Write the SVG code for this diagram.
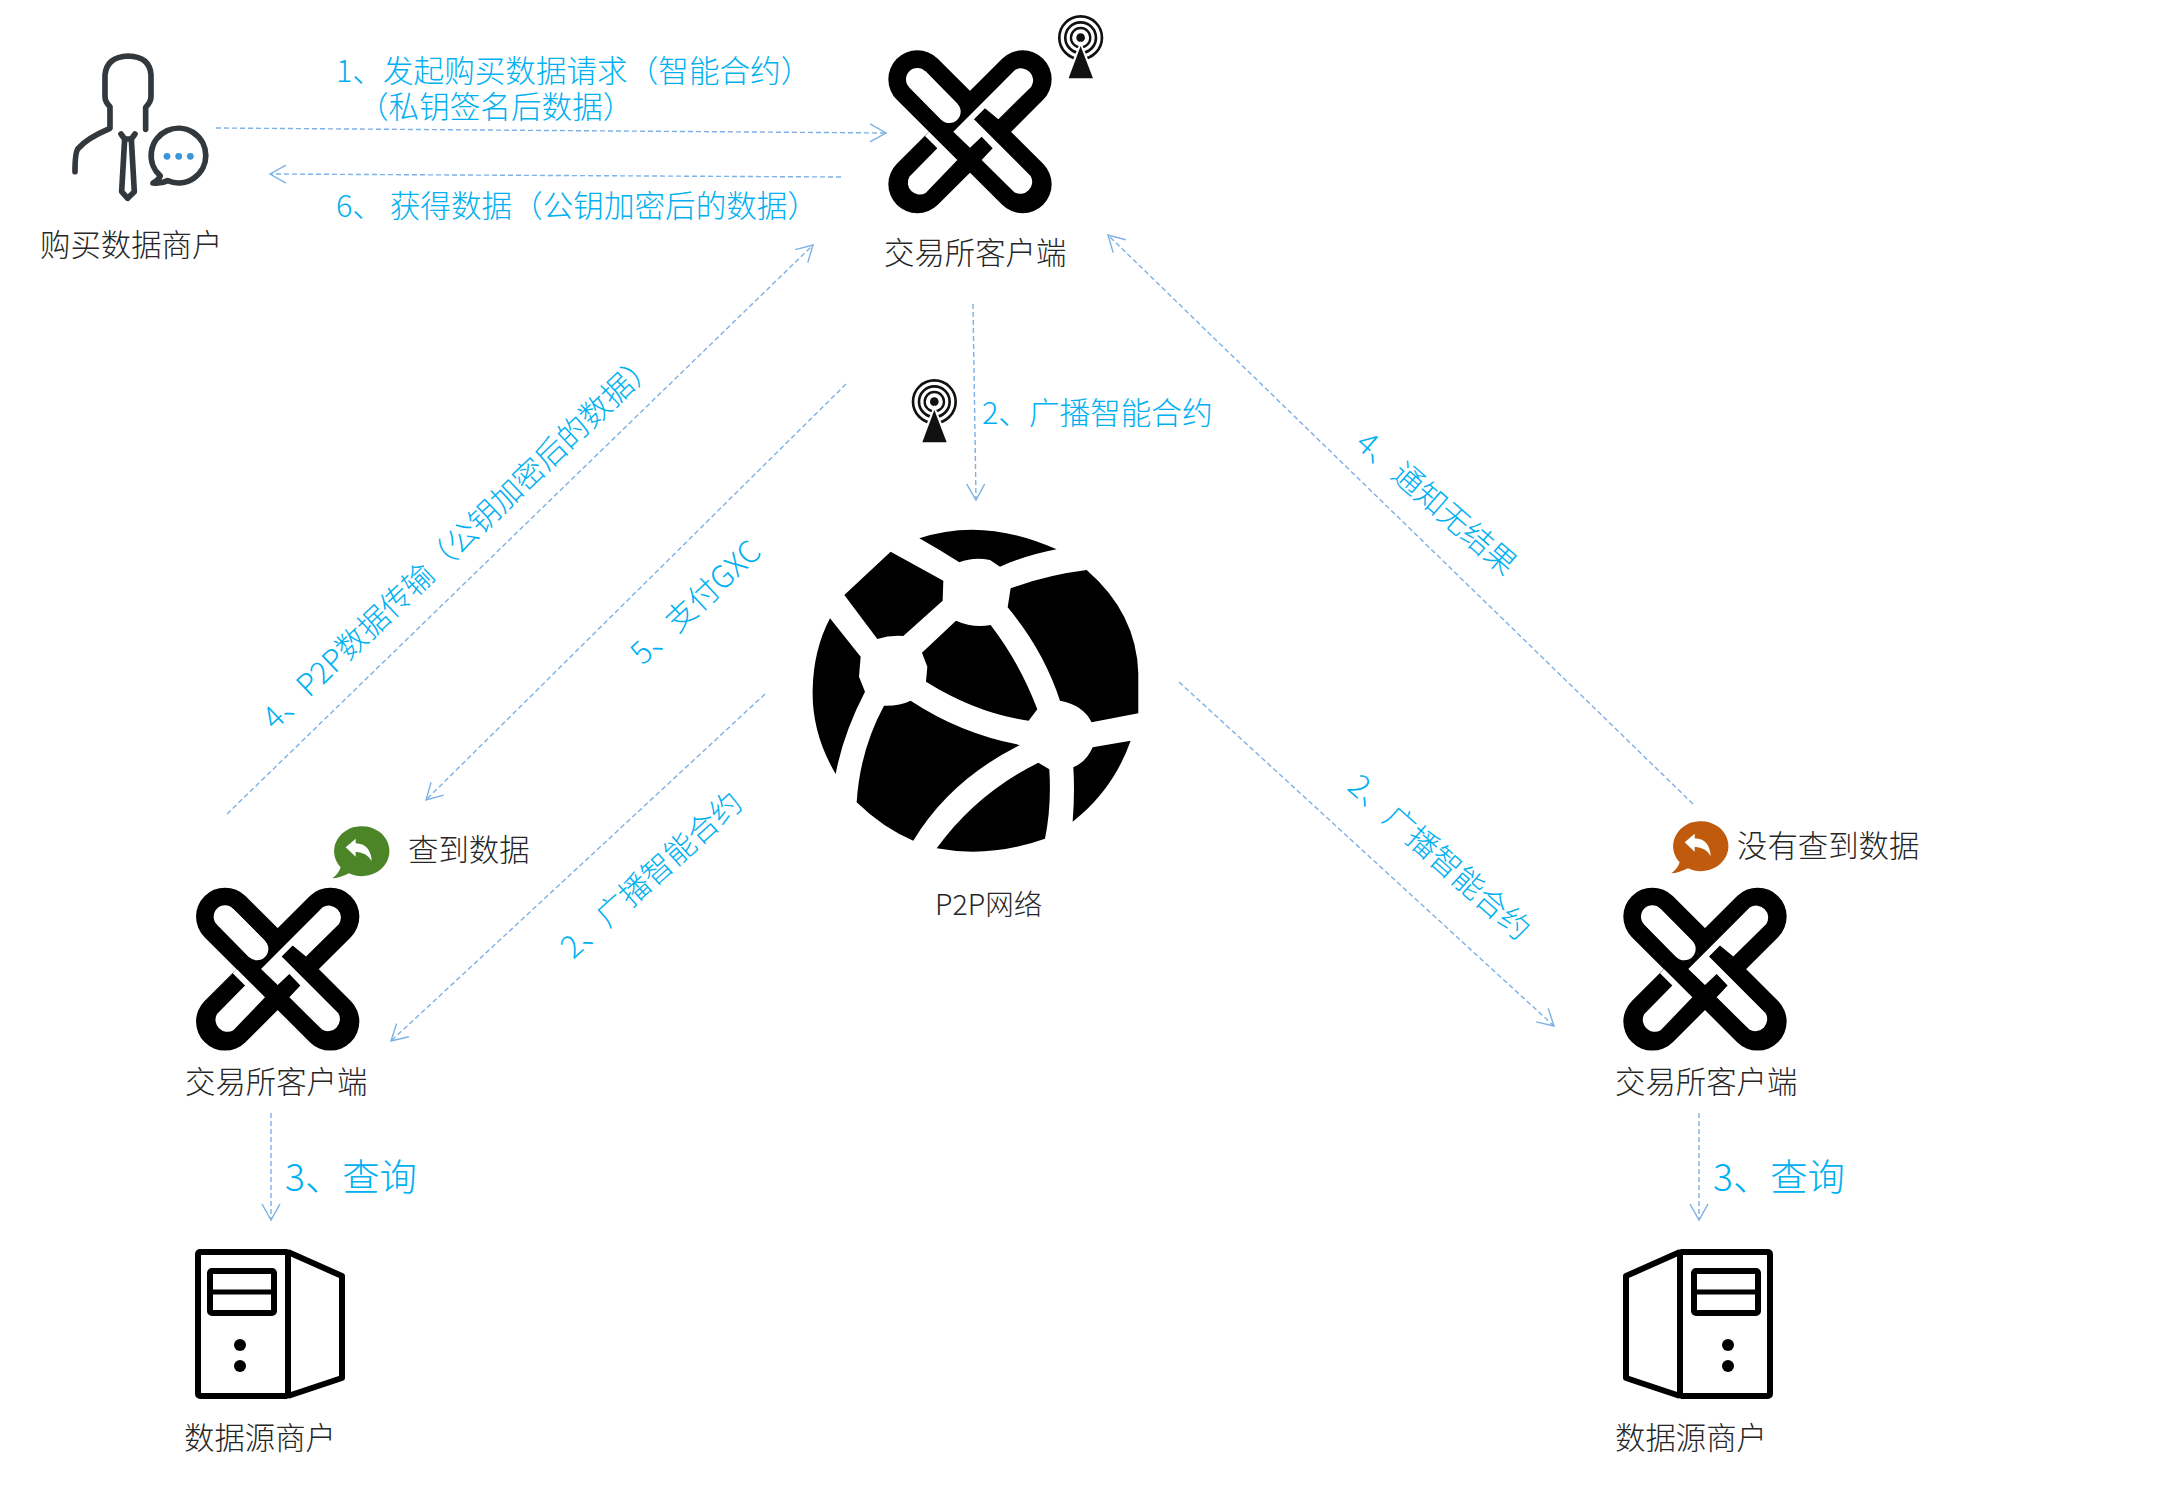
<svg xmlns="http://www.w3.org/2000/svg" xmlns:xlink="http://www.w3.org/1999/xlink" width="2160" height="1512" viewBox="0 0 2160 1512">
<style>
text{font-family:"Noto Sans CJK SC","Noto Sans",sans-serif;font-weight:300}
.k{font-size:30.400px;fill:#262626}
.b{font-size:30.600px;fill:#00b0f0}
.b3{font-size:37.300px;fill:#00b0f0}
.c{fill:none;stroke:#7db0e4;stroke-width:1.4;stroke-dasharray:5 3;marker-end:url(#arr)}
</style>
<defs>
<marker id="arr" markerUnits="userSpaceOnUse" markerWidth="22" markerHeight="24" refX="18" refY="12" orient="auto">
<path d="M2,3 L18,12 L2,21" fill="none" stroke="#7db0e4" stroke-width="1.4"/>
</marker>
<g id="xlogo" transform="scale(0.3333)">
<path d="M172,238 L488,553 M488,238 L172,553" stroke="#000" stroke-width="174" stroke-linecap="round" fill="none"/>
<path d="M172,238 L268,335" stroke="#fff" stroke-width="68" stroke-linecap="round" fill="none"/>
<path d="M268,335 L172,238" stroke="#fff" stroke-width="68" fill="none"/>
<path d="M465,210 A36,36 0 0 1 514,260 L415,358 L375,325 L342,358 L512,528 A36,36 0 0 1 463,577 L365,480 L398,445 L365,410 L330,443 L280,395 Z" fill="#fff"/>
<path d="M207,395 L195,408 L232,445 L148,530 A36,36 0 0 0 197,579 L292,480 Z" fill="#fff"/>
</g>
<g id="server">
<rect x="31" y="22" width="90" height="144" rx="2" fill="none" stroke="#000" stroke-width="6"/>
<path d="M121,22 L175,46 L175,148 L121,166" fill="none" stroke="#000" stroke-width="6" stroke-linejoin="round"/>
<rect x="43" y="41" width="64" height="42" rx="2" fill="none" stroke="#000" stroke-width="6"/>
<path d="M43,62 H107" stroke="#000" stroke-width="5"/>
<circle cx="73" cy="115" r="6"/><circle cx="73" cy="136" r="6"/>
</g>
<g id="antenna" transform="scale(0.3333)">
<circle cx="133" cy="125" r="64" fill="none" stroke="#111" stroke-width="8"/>
<circle cx="133" cy="125" r="46" fill="none" stroke="#111" stroke-width="8"/>
<circle cx="133" cy="125" r="29" fill="none" stroke="#111" stroke-width="7"/>
<circle cx="133" cy="125" r="13" fill="#111"/>
<path d="M133,135 L85,255 H181 Z" fill="#fff"/>
<path d="M133,150 L97,247 H170 Z" fill="#111"/>
</g>
<g id="reply"><path d="M-40,-8 L-10,-34 L-10,-20 Q35,-18 38,33 Q25,8 -10,5 L-10,20 Z" fill="#fff"/></g>
</defs>
<rect width="2160" height="1512" fill="#fff"/>
<g id="connectors">
<path class="c" d="M216,128 L886,133"/>
<path class="c" d="M841,177 L270,174"/>
<path class="c" d="M973,304 L976,500"/>
<path class="c" d="M227,814 L813,245"/>
<path class="c" d="M846,384 L426,800"/>
<path class="c" d="M765,694 L391,1041"/>
<path class="c" d="M1179,682 L1554,1026"/>
<path class="c" d="M1693,804 L1108,235"/>
<path class="c" d="M271,1113 L271,1220"/>
<path class="c" d="M1699,1113 L1699,1220"/>
</g>
<g id="buyer">
<g transform="scale(0.3333)" fill="none" stroke="#33383d" stroke-width="17" stroke-linecap="round" stroke-linejoin="round">
<path d="M437,388 L437,322 Q453,305 453,290 L453,225 Q450,170 385,168 Q320,170 315,225 L315,290 Q315,305 330,320 L330,385 Q260,415 235,445 Q225,455 225,515"/>
<path d="M363,402 L374,417 L365,575 L383,595 L403,575 L394,417 L405,402"/>
<path d="M374,417 H394"/>
<path d="M481,528 A82,82 0 1 1 503,542 Q483,552 459,549 Q475,542 481,528 Z"/>
</g>
<g fill="#3a96d8"><circle cx="167" cy="156.300" r="3.400"/><circle cx="178.700" cy="156.300" r="3.400"/><circle cx="190.300" cy="156.300" r="3.400"/></g>
<text class="k" x="40" y="256">购买数据商户</text>
</g>
<g id="client-top">
<use xlink:href="#xlogo" href="#xlogo" transform="translate(860,0)"/>
<use xlink:href="#antenna" href="#antenna" transform="translate(1036.300,-4)"/>
<text class="k" x="884" y="264">交易所客户端</text>
</g>
<g id="antenna-mid"><use xlink:href="#antenna" href="#antenna" transform="translate(890,360)"/></g>
<g id="p2p">
<g transform="translate(790,500) scale(0.3333)" fill="#000">
<path d="M388,115 Q580,50 800,148 Q710,165 630,200 L600,180 Q550,170 508,187 Q450,150 388,115 Z"/>
<path d="M302,155 L460,242 L458,302 L340,408 Q300,405 262,417 L163,285 Z"/>
<path d="M120,355 L212,470 L207,530 L225,575 Q160,700 137,822 Q65,700 68,570 Q70,450 120,355 Z"/>
<path d="M498,362 Q550,385 602,375 Q690,490 742,628 L716,662 Q560,640 408,545 L412,500 L396,458 Z"/>
<path d="M662,265 Q770,225 890,210 Q1040,340 1045,520 L1045,640 L905,667 Q880,615 810,602 Q760,450 653,322 Z"/>
<path d="M282,617 Q330,618 362,602 Q510,700 690,735 Q480,840 370,1022 Q280,985 200,907 Q210,750 282,617 Z"/>
<path d="M745,788 L778,808 Q785,920 765,1016 Q600,1075 440,1045 Q560,880 745,788 Z"/>
<path d="M908,742 L1022,722 Q970,870 848,965 Q855,880 850,802 Q890,785 908,742 Z"/>
</g>
<text class="k" x="935" y="915" style="font-size:28.500px">P2P网络</text>
</g>
<g id="client-left">
<use xlink:href="#xlogo" href="#xlogo" transform="translate(167.700,837.300)"/>
<text class="k" x="185" y="1093">交易所客户端</text>
<g transform="translate(359,850) scale(0.3333)"><path d="M-30,70 Q-60,85 -80,85 Q-60,70 -55,52 A83,75 0 1 1 -30,70 Z" fill="#4c8527"/><use xlink:href="#reply" href="#reply"/></g>
<text class="k" x="408" y="861">查到数据</text>
</g>
<g id="client-right">
<use xlink:href="#xlogo" href="#xlogo" transform="translate(1595,837.300)"/>
<text class="k" x="1615" y="1093">交易所客户端</text>
<g transform="translate(1698,845) scale(0.3333)"><path d="M-30,70 Q-60,85 -80,85 Q-60,70 -55,52 A83,75 0 1 1 -30,70 Z" fill="#c05a0c"/><use xlink:href="#reply" href="#reply"/></g>
<text class="k" x="1737" y="857">没有查到数据</text>
</g>
<g id="source-left">
<use xlink:href="#server" href="#server" transform="translate(167,1230)"/>
<text class="k" x="184" y="1449">数据源商户</text>
</g>
<g id="source-right">
<use xlink:href="#server" href="#server" transform="translate(1801,1230) scale(-1,1)"/>
<text class="k" x="1615" y="1449">数据源商户</text>
</g>
<g id="labels">
<text class="b" x="336" y="82">1、发起购买数据请求（智能合约）</text>
<text class="b" x="358" y="118">（私钥签名后数据）</text>
<text class="b" x="336" y="217">6、 获得数据（公钥加密后的数据）</text>
<text class="b" x="982" y="424">2、广播智能合约</text>
<text class="b3" x="285" y="1191">3、查询</text>
<text class="b3" x="1713" y="1191">3、查询</text>
<text class="b" transform="translate(275,731) rotate(-43.600)">4、P2P数据传输（公钥加密后的数据）</text>
<text class="b" transform="translate(643,666) rotate(-43)">5、支付GXC</text>
<text class="b" transform="translate(573,960) rotate(-42)">2、广播智能合约</text>
<text class="b" transform="translate(1346,789) rotate(41.500)">2、广播智能合约</text>
<text class="b" transform="translate(1354,446) rotate(41)">4、通知无结果</text>
</g>
</svg>
